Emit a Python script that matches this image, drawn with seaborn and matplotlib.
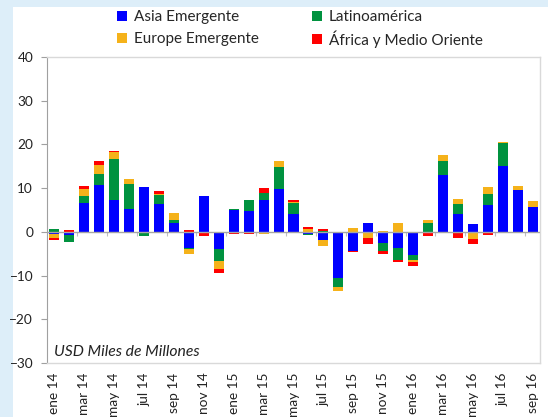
import numpy as np
import pandas as pd
import matplotlib
matplotlib.use("Agg")
import matplotlib.pyplot as plt
import matplotlib.patches as mpatches
import seaborn as sns

months = ['ene 14', 'feb 14', 'mar 14', 'abr 14', 'may 14', 'jun 14', 'jul 14', 'ago 14',
          'sep 14', 'oct 14', 'nov 14', 'dic 14',
          'ene 15', 'feb 15', 'mar 15', 'abr 15', 'may 15', 'jun 15', 'jul 15', 'ago 15',
          'sep 15', 'oct 15', 'nov 15', 'dic 15',
          'ene 16', 'feb 16', 'mar 16', 'abr 16', 'may 16', 'jun 16', 'jul 16', 'ago 16', 'sep 16']

asia = [-0.5, -0.7, 6.7, 10.8, 7.3, 5.3, 10.2, 6.3, 2.1, -3.7, 8.2, -4.0,
        5.0, 4.8, 7.3, 9.9, 4.0, -0.4, -1.8, -10.5, -4.4, 2.0, -2.6, -3.7,
        -5.4, -0.3, 13.1, 4.0, 1.9, 6.2, 15.0, 9.5, 5.6]
latam = [0.6, -1.7, 1.4, 2.5, 9.4, 5.6, -0.9, 2.1, 0.5, -0.2, 0.0, -2.7,
         0.2, 2.6, 1.5, 5.0, 2.5, -0.3, 0.3, -2.0, 0.0, 0.0, -1.7, -2.7,
         -1.0, 2.0, 3.1, 2.4, 0.0, 2.4, 5.4, 0.0, 0.0]
europe = [-0.9, 0.0, 1.7, 2.0, 1.5, 1.1, 0.0, 0.2, 1.7, -1.1, 0.0, -1.8,
          -0.2, 0.0, -0.4, 1.4, 0.4, 0.6, -1.5, -1.1, 0.8, -1.4, 0.2, 2.0,
          -0.6, 0.6, 1.3, 1.1, -1.7, 1.6, 0.1, 1.0, 1.5]
africa = [-0.5, 0.4, 0.7, 0.8, 0.4, -0.2, 0.1, 0.8, 0.0, 0.5, -1.0, -0.9,
          -0.2, -0.5, 1.2, 0.0, 0.4, 0.6, 0.3, 0.0, -0.3, -1.4, -0.8, -0.5,
          -0.7, -0.6, 0.0, -1.4, -1.0, -0.8, 0.0, 0.1, -0.2]

series_names = ['Asia Emergente', 'Latinoamérica', 'Europe Emergente', 'África y Medio Oriente']
series_vals = [asia, latam, europe, africa]
series_colors = ['#0000FF', '#00923F', '#F5B21A', '#FF0000']

sns.set_theme(style="white")
plt.rcParams['font.family'] = ['Lato', 'DejaVu Sans']

fig = plt.figure(figsize=(5.48, 4.17), dpi=100)
fig.patch.set_facecolor('#DDEEF9')
fig.patches.append(mpatches.Rectangle((13 / 548, 0), 1, (417 - 7) / 417,
                                      transform=fig.transFigure, facecolor='white',
                                      edgecolor='none', zorder=-10))
ax = fig.add_axes([47 / 548, 1 - 363 / 417, 493 / 548, 306 / 417])
ax.set_facecolor('white')

pos_base = np.zeros(len(months))
neg_base = np.zeros(len(months))
handles = []
for name, vals, col in zip(series_names, series_vals, series_colors):
    v = np.array(vals, dtype=float)
    bottom = np.where(v >= 0, pos_base, neg_base)
    df = pd.DataFrame({'mes': months, 'valor': v})
    sns.barplot(data=df, x='mes', y='valor', order=months, color=col, saturation=1,
                width=0.67, errorbar=None, bottom=bottom, ax=ax, zorder=3,
                linewidth=0)
    pos_base = pos_base + np.where(v >= 0, v, 0)
    neg_base = neg_base + np.where(v < 0, v, 0)
    handles.append(mpatches.Patch(facecolor=col, edgecolor='none', label=name))

ax.set_ylim(-30, 40)
ax.set_xlim(-0.5, len(months) - 0.5)
ax.set_yticks(np.arange(-30, 41, 10))
ax.set_xticks(np.arange(0, len(months), 2))
ax.set_xticklabels(months[::2], rotation=90, fontsize=9.8, color='#222222')
ax.tick_params(axis='x', length=0, pad=7)
ax.tick_params(axis='y', length=4, width=0.8, color='#A0A0A0', direction='out',
               labelsize=9.8, labelcolor='#222222', pad=6, left=True)
ax.set_xlabel('')
ax.set_ylabel('')

for s in ['top', 'right', 'bottom']:
    ax.spines[s].set_color('#D9D9D9')
    ax.spines[s].set_linewidth(1)
ax.spines['left'].set_color('#A0A0A0')
ax.spines['left'].set_linewidth(0.8)

ax.axhline(0, color='#A6A6A6', lw=1, zorder=4)
sec = ax.secondary_xaxis(30 / 70)
sec.set_xticks(np.arange(1.5, len(months) - 1, 2))
sec.tick_params(axis='x', length=3, width=0.8, color='#BFBFBF', direction='out',
                labelbottom=False, labeltop=False, bottom=True, top=False)
sec.xaxis.set_ticks_position('bottom')
sec.set_xticklabels([])
for s in sec.spines.values():
    s.set_visible(False)

ax.text(0.014, 0.036, 'USD Miles de Millones', transform=ax.transAxes, fontsize=11.3,
        fontstyle='italic', ha='left', va='center', color='#222222')

# legend: one entry per slot so that rows stay aligned
slots = [(117, 17), (312, 17), (117, 39), (312, 39)]
for h, (px, py) in zip(handles, slots):
    fig.legend(handles=[h], labels=[h.get_label()], loc='center left',
               bbox_to_anchor=(px / 548, 1 - py / 417), frameon=False,
               fontsize=11, handlelength=0.65, handleheight=0.65,
               handletextpad=0.45, borderpad=0, borderaxespad=0)

fig.savefig('out.png', dpi=100, facecolor=fig.get_facecolor())
